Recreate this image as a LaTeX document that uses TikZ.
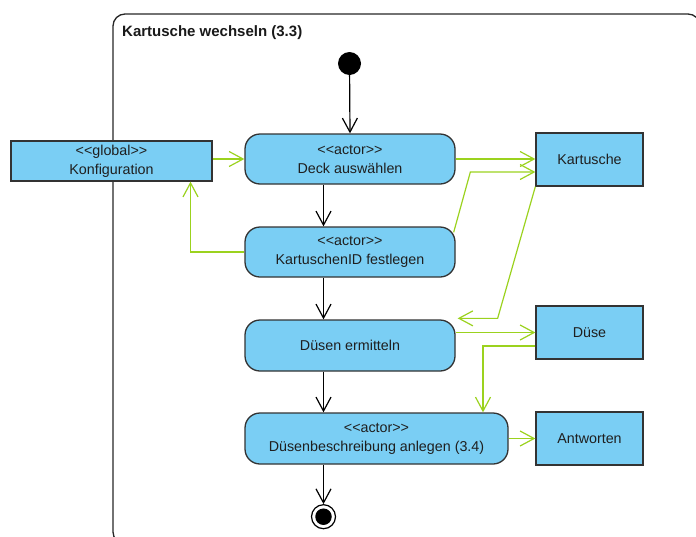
\documentclass[tikz,border=0pt]{standalone}
\usepackage{fontspec}
\setmainfont{Liberation Sans}
\usetikzlibrary{arrows.meta,calc}

\definecolor{actfill}{HTML}{7ACEF4}
\definecolor{flowgreen}{HTML}{9BD21E}
\definecolor{boxedge}{HTML}{333333}

% stereotype label such as <<actor>>
\newcommand\stereo[1]{<\kern0pt<#1>\kern0pt>}

\tikzset{
  basebox/.style={draw=boxedge, fill=actfill, line width=1.3pt, align=center,
    inner sep=0pt, text=black!88, font=\fontsize{14.3}{19}\selectfont},
  action/.style={basebox, rounded corners=15pt, minimum height=50pt},
  objbox/.style={basebox, minimum width=107pt, minimum height=53pt},
  ctrl/.style={draw=black, line width=1.2pt, -{Straight Barb[length=14pt,width=15pt]}},
  objflow/.style={draw=flowgreen, line width=1.2pt, -{Straight Barb[length=14pt,width=15pt]}},
}

\begin{document}
\begin{tikzpicture}[x=1pt, y=-1pt]
  \useasboundingbox (0,0) rectangle (696,536);

  % activity frame
  \begin{scope}
    \clip (0,0) rectangle (696,536);
    \draw[line width=1.3pt, draw=black!85, rounded corners=12pt] (113,14) rectangle (700,544);
  \end{scope}
  \node[anchor=base west, inner sep=0pt, font=\fontsize{15}{18}\selectfont\bfseries, text=black!90]
    (title) at (122,36) {Kartusche wechseln (3.3)};

  % start and end
  \node[circle, fill=black, minimum size=23pt, inner sep=0pt] (start) at (349.5,63.5) {};
  \node[circle, draw=black, line width=1.2pt, fill=white, minimum size=24pt, inner sep=0pt] (end) at (323.5,516.7) {};
  \node[circle, fill=black, minimum size=16.5pt, inner sep=0pt] (enddot) at (end) {};

  % actions
  \node[action, minimum width=210pt] (deck)  at (350,159)   {\stereo{actor}\\Deck auswählen};
  \node[action, minimum width=210pt] (kid)   at (350,252)   {\stereo{actor}\\KartuschenID festlegen};
  \node[action, minimum width=210pt, minimum height=51pt] (dermit) at (350,345.5) {Düsen ermitteln};
  \node[action, minimum width=263pt, minimum height=51pt] (dbesch) at (376.5,438.5) {\stereo{actor}\\Düsenbeschreibung anlegen (3.4)};

  % objects
  \node[basebox, minimum width=201pt, minimum height=40pt] (konf) at (111.5,161) {\stereo{global}\\Konfiguration};
  \node[objbox] (kart) at (589.5,159.5) {Kartusche};
  \node[objbox] (duese) at (589.5,332.5) {Düse};
  \node[objbox] (antw) at (589.5,438.5) {Antworten};

  % control flow
  \draw[ctrl] (start) -- (deck.north);
  \draw[ctrl] (deck.south -| end) -- (kid.north -| end);
  \draw[ctrl] (kid.south -| end) -- (dermit.north -| end);
  \draw[ctrl] (dermit.south -| end) -- (dbesch.north -| end);
  \draw[ctrl] (dbesch.south -| end) -- (end.north);

  % object flow
  \draw[objflow] (konf.east |- deck.west) -- (deck.west);
  \draw[objflow] (kid.west) -| ([xshift=79pt]konf.south);
  \draw[objflow] (deck.east) -- (deck.east -| kart.west);
  \draw[objflow] ([xshift=-2pt,yshift=-6pt]kid.north east)
     -- ([xshift=-65pt,yshift=-12.5pt]kart.west) -- ([yshift=-12.5pt]kart.west);
  \draw[objflow] (kart.south west) -- ([xshift=42pt,yshift=1pt]dermit.north east)
     -- ([xshift=2pt,yshift=1pt]dermit.north east);
  \draw[objflow] (duese.west -| dermit.east) -- (duese.west);
  \draw[objflow] ([yshift=-13.5pt]duese.west) -| ([xshift=106.5pt]dbesch.north);
  \draw[objflow] (dbesch.east) -- (antw.west);
\end{tikzpicture}
\end{document}
